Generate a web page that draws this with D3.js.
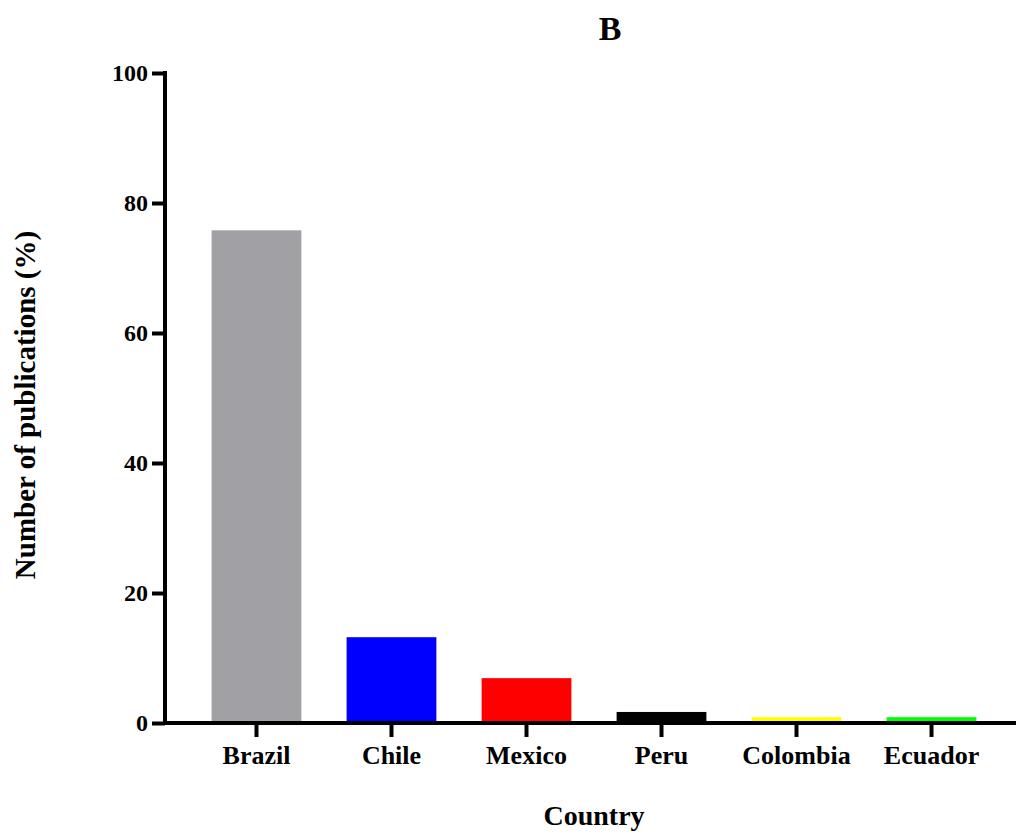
<!DOCTYPE html>
<html>
<head>
<meta charset="utf-8">
<script src="https://cdn.jsdelivr.net/npm/d3@7"></script>
<style>
  body { margin: 0; background: #fff; }
  text { font-family: "Liberation Serif", "Times New Roman", serif; font-weight: bold; }
</style>
</head>
<body>
<svg id="chart" width="1016" height="836"></svg>
<script>
// Data
const countries = ["Brazil", "Chile", "Mexico", "Peru", "Colombia", "Ecuador"];
const values = [75.8, 13.2, 6.9, 1.7, 0.9, 0.9];
const barColors = ["#a1a0a5", "#0000ff", "#ff0000", "#000000", "#ffff00", "#00ff00"];
const yTicks = [0, 20, 40, 60, 80, 100];

const svg = d3.select('#chart');
const margin = {top: 73, left: 165, bottom: 723, right: 1016};

const xScale = d3.scaleBand()
    .domain(countries)
    .range([190, 998])
    .paddingInner(0.335)
    .paddingOuter(0.16);

const yScale = d3.scaleLinear()
    .domain([0, 100])
    .range([margin.bottom, margin.top]);

// bars
svg.append('g')
    .selectAll('rect')
    .data(countries)
    .enter()
    .append('rect')
        .attr('x', d => xScale(d))
        .attr('width', xScale.bandwidth())
        .attr('y', (d, i) => yScale(values[i]))
        .attr('height', (d, i) => yScale(0) - yScale(values[i]))
        .style('fill', (d, i) => barColors[i]);

// y axis
const yAxis = svg.append('g')
    .attr('transform', 'translate(' + margin.left + ',0)')
    .call(d3.axisLeft(yScale).tickValues(yTicks).tickSize(13).tickPadding(4).tickSizeOuter(0));
yAxis.select('.domain').attr('stroke-width', 4).attr('d', 'M0,' + (margin.top - 2) + 'V' + (margin.bottom + 2));
yAxis.selectAll('.tick line').attr('stroke-width', 4);
yAxis.selectAll('.tick text')
    .style('font-size', '24px')
    .attr('fill', '#000');

// x axis
const xAxis = svg.append('g')
    .attr('transform', 'translate(0,' + margin.bottom + ')')
    .call(d3.axisBottom(xScale).tickSize(14).tickPadding(9).tickSizeOuter(0));
xAxis.select('.domain').attr('stroke-width', 4).attr('d', 'M' + (margin.left - 2) + ',0H' + margin.right);
xAxis.selectAll('.tick line').attr('stroke-width', 4);
xAxis.selectAll('.tick text')
    .style('font-size', '26px')
    .attr('fill', '#000');

// title
svg.append('text')
    .attr('x', 610)
    .attr('y', 40)
    .attr('text-anchor', 'middle')
    .style('font-size', '34px')
    .text('B');

// axis titles
svg.append('text')
    .attr('x', 594)
    .attr('y', 825)
    .attr('text-anchor', 'middle')
    .style('font-size', '28px')
    .text('Country');

svg.append('text')
    .attr('transform', 'translate(35,405) rotate(-90)')
    .attr('text-anchor', 'middle')
    .style('font-size', '29px')
    .text('Number of publications (%)');
</script>
</body>
</html>
